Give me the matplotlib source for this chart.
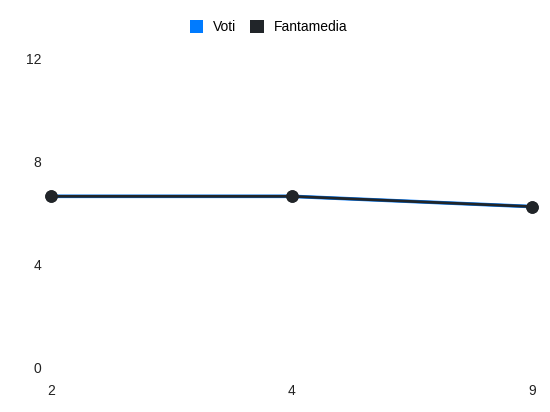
import matplotlib.pyplot as plt
from matplotlib.patches import Patch

# giornate (categorie sull'asse x)
giornate = ["2", "4", "9"]
voti = [6.65, 6.65, 6.25]
fantamedia = [6.65, 6.65, 6.25]
y_ticks = [0, 4, 8, 12]

BLUE = "#007bff"
DARK = "#212529"

plt.rcParams["font.family"] = ["Liberation Sans", "DejaVu Sans"]

fig = plt.figure(figsize=(5.5, 4.12), dpi=100)
ax = fig.add_axes([0.0927, 0.1092, 0.8746, 0.7476])

x = range(len(giornate))
ax.plot(x, voti, color=BLUE, lw=2.6, marker="o", ms=8, mfc=DARK, mec=DARK,
        clip_on=False, zorder=2)
ax.plot(x, fantamedia, color=DARK, lw=2.0, marker="o", ms=8, mfc=DARK, mec=DARK,
        clip_on=False, zorder=3)

ax.set_xlim(0, len(giornate) - 1)
ax.set_ylim(0, 12)
ax.set_xticks(list(x))
ax.set_xticklabels(giornate)
ax.set_yticks(y_ticks)
ax.tick_params(length=0, labelsize=10, colors="#222222")
ax.tick_params(axis="y", pad=7)
ax.tick_params(axis="x", pad=12)
for s in ax.spines.values():
    s.set_visible(False)

handles = [Patch(facecolor=BLUE, edgecolor="none", label="Voti"),
           Patch(facecolor=DARK, edgecolor="none", label="Fantamedia")]
fig.legend(handles=handles, loc="center", bbox_to_anchor=(0.488, 0.934), ncol=2,
           frameon=False, fontsize=10, handlelength=0.98, handleheight=1.1,
           handletextpad=0.7, columnspacing=1.0)

fig.savefig("out.png", dpi=100)
